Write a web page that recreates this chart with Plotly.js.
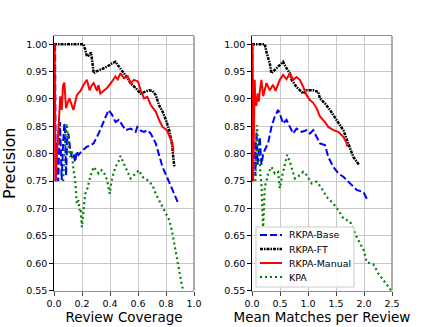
<!DOCTYPE html>
<html><head><meta charset="utf-8">
<script src="https://cdn.plot.ly/plotly-3.0.1.min.js"></script>
<style>html,body{margin:0;padding:0;background:#fff}#chart{width:436px;height:327px}</style>
</head><body><div id="chart"></div>
<script>
// ---- Left panel: precision vs review coverage ----
const covBaseX = [0.008,0.012,0.02,0.03,0.043,0.05,0.055,0.065,0.074,0.079,0.086,0.095,0.103,0.115,0.127,0.14,0.151,0.163,0.175,0.2,0.235,0.26,0.283,0.319,0.355,0.39,0.415,0.439,0.463,0.487,0.511,0.547,0.583,0.595,0.62,0.643,0.667,0.691,0.727,0.75,0.775,0.806,0.839,0.858,0.883];
const covBaseY = [1.0,0.75,0.82,0.75,0.858,0.78,0.752,0.82,0.855,0.843,0.76,0.83,0.837,0.81,0.794,0.8,0.785,0.805,0.798,0.805,0.813,0.815,0.819,0.837,0.858,0.88,0.871,0.858,0.862,0.852,0.843,0.846,0.84,0.849,0.842,0.84,0.843,0.837,0.819,0.798,0.776,0.758,0.74,0.727,0.712];
const covFtX = [0,0.1,0.211,0.223,0.235,0.25,0.265,0.275,0.283,0.3,0.33,0.379,0.415,0.439,0.455,0.475,0.499,0.52,0.547,0.583,0.619,0.64,0.655,0.679,0.703,0.727,0.75,0.775,0.799,0.823,0.842,0.851,0.858,0.866];
const covFtY = [1.0,1.0,1.0,0.99,0.978,0.98,0.985,0.965,0.947,0.95,0.953,0.959,0.965,0.968,0.962,0.956,0.947,0.94,0.929,0.92,0.91,0.912,0.913,0.916,0.915,0.907,0.889,0.877,0.862,0.843,0.819,0.794,0.779,0.777];
const covManX = [0,0.005,0.01,0.03,0.045,0.055,0.065,0.074,0.086,0.1,0.11,0.125,0.139,0.163,0.19,0.211,0.235,0.254,0.27,0.283,0.307,0.318,0.331,0.355,0.379,0.415,0.439,0.455,0.475,0.499,0.527,0.547,0.571,0.6,0.619,0.643,0.667,0.691,0.727,0.75,0.775,0.806,0.83,0.846,0.854];
const covManY = [1.0,1.0,0.75,0.85,0.905,0.88,0.925,0.93,0.883,0.895,0.901,0.89,0.88,0.907,0.915,0.926,0.935,0.916,0.925,0.929,0.915,0.925,0.91,0.915,0.92,0.932,0.941,0.936,0.947,0.938,0.941,0.929,0.935,0.932,0.916,0.901,0.904,0.889,0.877,0.862,0.849,0.843,0.828,0.819,0.804];
const covKpaX = [0.065,0.08,0.091,0.1,0.115,0.127,0.139,0.151,0.163,0.175,0.182,0.19,0.199,0.211,0.223,0.235,0.259,0.283,0.3,0.319,0.34,0.355,0.379,0.398,0.41,0.439,0.46,0.475,0.499,0.52,0.547,0.583,0.607,0.631,0.667,0.703,0.727,0.763,0.799,0.823,0.842,0.858,0.878,0.894,0.911,0.926];
const covKpaY = [0.75,0.83,0.855,0.82,0.794,0.807,0.771,0.752,0.709,0.715,0.697,0.7,0.666,0.697,0.727,0.733,0.758,0.776,0.77,0.764,0.77,0.767,0.752,0.727,0.75,0.776,0.785,0.796,0.782,0.77,0.755,0.764,0.77,0.758,0.752,0.743,0.727,0.709,0.691,0.679,0.66,0.636,0.612,0.587,0.563,0.547];

// ---- Right panel: precision vs mean matches per review ----
const mmBaseX = [0.005,0.01,0.03,0.048,0.06,0.08,0.1,0.12,0.138,0.168,0.2,0.228,0.287,0.347,0.407,0.466,0.5,0.556,0.616,0.676,0.735,0.795,0.885,0.975,1.034,1.093,1.154,1.213,1.303,1.362,1.452,1.541,1.631,1.751,1.87,1.99,2.05];
const mmBaseY = [1.0,0.75,0.82,0.825,0.76,0.84,0.78,0.82,0.831,0.78,0.8,0.807,0.819,0.849,0.868,0.88,0.872,0.855,0.862,0.849,0.837,0.846,0.84,0.843,0.837,0.843,0.831,0.819,0.816,0.794,0.776,0.764,0.758,0.746,0.734,0.73,0.718];
const mmFtX = [0,0.228,0.258,0.29,0.317,0.347,0.4,0.466,0.526,0.556,0.616,0.676,0.706,0.795,0.914,0.975,1.093,1.183,1.213,1.303,1.392,1.482,1.572,1.631,1.691,1.751,1.81,1.87,1.918];
const mmFtY = [1.0,1.0,0.986,0.975,0.965,0.947,0.953,0.959,0.965,0.968,0.956,0.947,0.935,0.922,0.91,0.916,0.916,0.913,0.901,0.892,0.88,0.865,0.852,0.843,0.825,0.81,0.794,0.785,0.779];
const mmManX = [0,0.01,0.02,0.03,0.048,0.06,0.078,0.1,0.12,0.14,0.168,0.2,0.258,0.317,0.377,0.42,0.496,0.556,0.616,0.676,0.735,0.795,0.855,0.914,0.975,1.034,1.093,1.154,1.213,1.303,1.362,1.452,1.541,1.631,1.691,1.70];
const mmManY = [1.0,1.0,0.75,0.86,0.935,0.89,0.888,0.91,0.895,0.915,0.935,0.905,0.929,0.916,0.926,0.915,0.935,0.944,0.936,0.947,0.935,0.94,0.935,0.922,0.907,0.898,0.893,0.883,0.868,0.858,0.849,0.843,0.84,0.831,0.819,0.813];
const mmKpaX = [0.06,0.078,0.09,0.11,0.138,0.15,0.168,0.18,0.186,0.198,0.21,0.228,0.26,0.287,0.347,0.407,0.466,0.496,0.54,0.586,0.628,0.676,0.723,0.765,0.855,0.914,0.975,1.064,1.154,1.243,1.333,1.452,1.541,1.631,1.751,1.87,1.99,2.05,2.168,2.258,2.348,2.468,2.5];
const mmKpaY = [0.75,0.849,0.852,0.81,0.794,0.76,0.746,0.71,0.7,0.666,0.69,0.74,0.75,0.764,0.776,0.764,0.767,0.737,0.76,0.782,0.798,0.785,0.77,0.755,0.761,0.767,0.761,0.746,0.749,0.737,0.721,0.709,0.697,0.682,0.676,0.648,0.625,0.602,0.598,0.581,0.569,0.554,0.548];

const seriesNames = ['RKPA-Base','RKPA-FT','RKPA-Manual','KPA'];
const yTicks = [0.55,0.60,0.65,0.70,0.75,0.80,0.85,0.90,0.95,1.00];
const covTicks = [0.0,0.2,0.4,0.6,0.8,1.0];
const mmTicks = [0.0,0.5,1.0,1.5,2.0,2.5];

const styles = [
  {color:'#0000ff', dash:'7px,3px', width:2},
  {color:'#000000', dash:'3px,1px,1.5px,1px', width:2.5},
  {color:'#ff0000', dash:'solid', width:2},
  {color:'#008000', dash:'2px,3px', width:2.2}
];

const left = [[covBaseX,covBaseY],[covFtX,covFtY],[covManX,covManY],[covKpaX,covKpaY]];
const right = [[mmBaseX,mmBaseY],[mmFtX,mmFtY],[mmManX,mmManY],[mmKpaX,mmKpaY]];
const traces = [];
left.forEach((d,i)=>traces.push({x:d[0],y:d[1],xaxis:'x',yaxis:'y',mode:'lines',name:seriesNames[i],showlegend:false,line:styles[i],hoverinfo:'skip'}));
right.forEach((d,i)=>traces.push({x:d[0],y:d[1],xaxis:'x2',yaxis:'y2',mode:'lines',name:seriesNames[i],showlegend:false,line:styles[i],hoverinfo:'skip'}));

const W=436,H=327;
const yDom=[1-290.7/H, 1-36/H];
const tickFont={family:'DejaVu Sans',size:9.5,color:'#000'};
function xax(dom,range,ticks,title){
  return {domain:dom,range:range,tickvals:ticks,ticktext:ticks.map(v=>v.toFixed(1)),tickfont:tickFont,
    showgrid:true,gridcolor:'#c8c8c8',gridwidth:1,zeroline:false,showline:true,linecolor:'#909090',linewidth:1.5,mirror:true,
    ticks:'outside',ticklen:3.5,tickcolor:'#444',title:{text:title,font:{family:'DejaVu Sans',size:13.5,color:'#000'},standoff:2}};
}
function yax(anchor,title){
  return {domain:yDom,anchor:anchor,range:[0.55,1.015],tickvals:yTicks,ticktext:yTicks.map(v=>v.toFixed(2)),tickfont:tickFont,
    showgrid:true,gridcolor:'#c8c8c8',gridwidth:1,zeroline:false,showline:true,linecolor:'#000',linewidth:1.3,
    ticks:'outside',ticklen:3.5,tickcolor:'#000',title:title?{text:title,font:{family:'DejaVu Sans',size:16,color:'#000'},standoff:6}:{text:''}};
}
const xL=[54/W,194/W], xR=[252/W,392/W];

// legend (drawn as a boxed key inside the right panel)
const lgBox={x0:256,x1:354,y0:227,y1:287};
const lgRows=[235,249,263,277];
const px=v=>v/W, py=v=>1-v/H;
const shapes=[
  {type:'line',xref:'paper',yref:'paper',x0:xL[1],x1:xL[1],y0:yDom[0],y1:yDom[1],line:{color:'#909090',width:1.5}},
  {type:'line',xref:'paper',yref:'paper',x0:xR[1],x1:xR[1],y0:yDom[0],y1:yDom[1],line:{color:'#909090',width:1.5}},
  {type:'rect',xref:'paper',yref:'paper',x0:px(lgBox.x0),x1:px(lgBox.x1),y0:py(lgBox.y1),y1:py(lgBox.y0),
    line:{color:'#cccccc',width:1},fillcolor:'rgba(255,255,255,0.92)',layer:'above'}
];
const annotations=[];
seriesNames.forEach((n,i)=>{
  shapes.push({type:'line',xref:'paper',yref:'paper',x0:px(260),x1:px(282),y0:py(lgRows[i]),y1:py(lgRows[i]),
    line:{color:styles[i].color,dash:styles[i].dash,width:styles[i].width},layer:'above'});
  annotations.push({xref:'paper',yref:'paper',x:px(287),y:py(lgRows[i]),xanchor:'left',yanchor:'middle',showarrow:false,
    text:n,font:{family:'DejaVu Sans',size:9.5,color:'#000'}});
});

const layout={
  width:W,height:H,margin:{l:0,r:0,t:0,b:0},paper_bgcolor:'#fff',plot_bgcolor:'#fff',
  xaxis:xax(xL,[0,1.0],covTicks,'Review Coverage'),
  yaxis:yax('x','Precision'),
  xaxis2:xax(xR,[0,2.5],mmTicks,'Mean Matches per Review'),
  yaxis2:yax('x2',''),
  showlegend:false,
  shapes:shapes,annotations:annotations
};
Plotly.newPlot('chart',traces,layout,{staticPlot:true,displayModeBar:false});
</script></body></html>
